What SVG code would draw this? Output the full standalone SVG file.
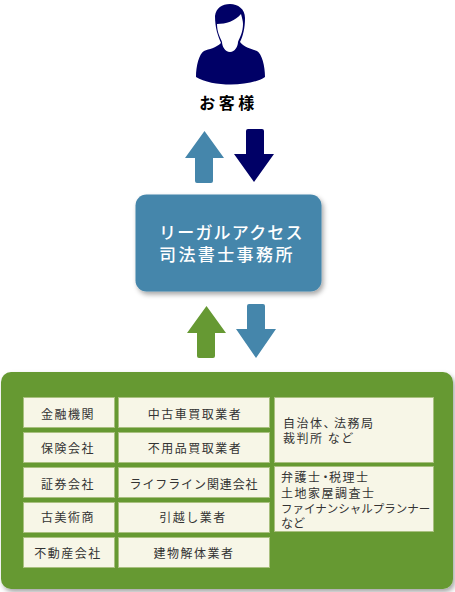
<svg xmlns="http://www.w3.org/2000/svg" width="455" height="592" viewBox="0 0 455 592">
<style>
text{font-family:"Noto Sans CJK JP","Noto Sans CJK SC",sans-serif}
.c{fill:#f7f6e7;stroke:#a9c07f;stroke-width:1}
.t{font-size:12px;letter-spacing:1.5px;fill:#333;text-anchor:middle}
.l{font-size:12px;letter-spacing:1.5px;fill:#333}
.n{letter-spacing:-4.5px}
</style>
<defs>
<filter id="s" x="-10%" y="-10%" width="125%" height="125%"><feDropShadow dx="2" dy="3" stdDeviation="2.500" flood-color="#000" flood-opacity=".35"/></filter>
</defs>
<g id="customer">
<path fill="#000066" d="M215 16C216 8 222 4 230 4C238 4 245 9 245 18C245 28 243 36 240 42C245 48 252 49 257 51C262 54 265 66 265 77C250 87 212 87 196 77C196 66 199 54 204 51C209 49 216 48 221 43C218 36 215 28 215 16Z"/>
<path fill="#fff" d="M217 24C226 24 235 21 241 14C242 18 243 21 243 24C243 32 240 37 238 42C238 46 235 52 230 52C225 52 222 46 222 42C220 37 217 32 217 24Z"/>
<text x="228.500" y="109" font-size="16" font-weight="700" letter-spacing="3.500" fill="#000" text-anchor="middle">お客様</text>
</g>
<g id="legal-access">
<rect x="135.500" y="194.500" width="186" height="97" rx="11" fill="#4586ab" filter="url(#s)"/>
<text x="159" y="238.500" font-size="17" font-weight="500" letter-spacing="1.200" fill="#fff">リーガルアクセス</text>
<text x="159" y="261" font-size="17" font-weight="500" letter-spacing="2.400" fill="#fff">司法書士事務所</text>
</g>
<g id="connectors">
<path fill="#4586ab" d="M204.500 131L224 158H213V181Q213 183 211 183H197Q195 183 195 181V158H185Z"/>
<path fill="#000066" d="M254 182L234 154H246V131Q246 129 248 129H262Q264 129 264 131V154H274Z"/>
<path fill="#669933" d="M206.500 306L226 333H215V356Q215 358 213 358H199Q197 358 197 356V333H187Z"/>
<path fill="#4586ab" d="M256 358L236 329H247V306Q247 304 249 304H263Q265 304 265 306V329H276Z"/>
</g>
<g id="partners">
<rect x="1" y="372" width="452" height="217" rx="10" fill="#669933" filter="url(#s)"/>
<rect class="c" x="23.500" y="397.500" width="91" height="30"/><text class="t" x="68" y="418.500">金融機関</text>
<rect class="c" x="23.500" y="432.500" width="91" height="30"/><text class="t" x="68" y="453">保険会社</text>
<rect class="c" x="23.500" y="467.500" width="91" height="30"/><text class="t" x="68" y="489">証券会社</text>
<rect class="c" x="23.500" y="502.500" width="91" height="30"/><text class="t" x="68" y="522">古美術商</text>
<rect class="c" x="23.500" y="537.500" width="91" height="30"/><text class="t" x="68" y="557.500">不動産会社</text>
<rect class="c" x="118.500" y="397.500" width="151" height="30"/><text class="t" x="195" y="418.500">中古車買取業者</text>
<rect class="c" x="118.500" y="432.500" width="151" height="30"/><text class="t" x="195" y="453">不用品買取業者</text>
<rect class="c" x="118.500" y="467.500" width="151" height="30"/><text class="t" x="194" y="489" style="letter-spacing:.9px">ライフライン関連会社</text>
<rect class="c" x="118.500" y="502.500" width="151" height="30"/><text class="t" x="193" y="522">引越し業者</text>
<rect class="c" x="118.500" y="537.500" width="151" height="30"/><text class="t" x="194" y="557.500">建物解体業者</text>
<rect class="c" x="274.500" y="397.500" width="159" height="65"/>
<text class="l" x="283" y="427.500">自治体<tspan class="n">、</tspan><tspan dx="3">法務局</tspan></text>
<text class="l" x="283" y="442.500">裁判所 など</text>
<rect class="c" x="274.500" y="466.500" width="159" height="65"/>
<text class="l" x="281" y="481.500">弁護士<tspan class="n" dx="-2">・</tspan><tspan dx="2">税理士</tspan></text>
<text class="l" x="281" y="497.500">土地家屋調査士</text>
<text class="l" x="281" y="512.500" style="font-size:11.500px;letter-spacing:0">ファイナンシャルプランナー</text>
<text class="l" x="281" y="527.500" style="letter-spacing:0">など</text>
</g>
</svg>
